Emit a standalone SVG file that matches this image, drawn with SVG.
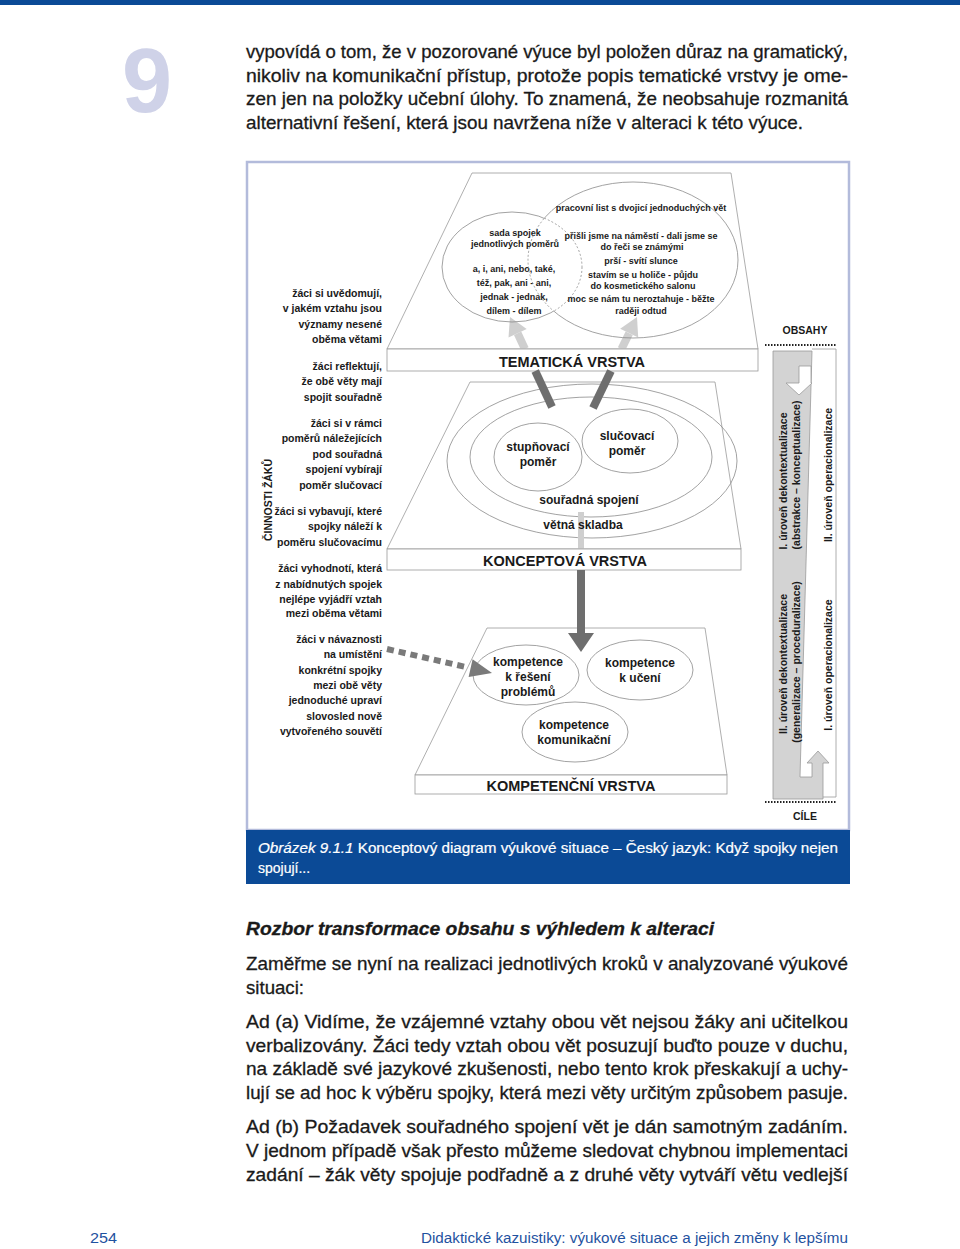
<svg xmlns="http://www.w3.org/2000/svg" width="960" height="1249" viewBox="0 0 960 1249">
<style>
.body{font-family:"Liberation Sans",Arial,sans-serif;font-size:18.5px;fill:#1a1a1a;stroke:#1a1a1a;stroke-width:0.3}
.lbl{font-family:"Liberation Sans",Arial,sans-serif;font-size:10.5px;font-weight:bold;fill:#1a1a1a;text-anchor:end}
.tiny{font-family:"Liberation Sans",Arial,sans-serif;font-size:9px;font-weight:bold;fill:#1a1a1a;text-anchor:middle}
.mid{font-family:"Liberation Sans",Arial,sans-serif;font-size:12px;font-weight:bold;fill:#1a1a1a;text-anchor:middle}
.layer{font-family:"Liberation Sans",Arial,sans-serif;font-size:14.5px;font-weight:bold;fill:#1a1a1a;text-anchor:middle}
.side{font-family:"Liberation Sans",Arial,sans-serif;font-size:10.5px;font-weight:bold;fill:#1a1a1a;text-anchor:middle}
.slab{fill:#fff;stroke:#9a9a9a;stroke-width:0.8}
.ell{fill:none;stroke:#8a8a8a;stroke-width:0.8}
.ellw{fill:#fff;stroke:#8a8a8a;stroke-width:0.8}
.dots{stroke:#222;stroke-width:2;stroke-dasharray:1.5 1.5}
.cap{font-family:"Liberation Sans",Arial,sans-serif;font-size:14px;fill:#fff;stroke:#fff;stroke-width:0.2}
</style>
<defs>
<mask id="outR" maskUnits="userSpaceOnUse" x="0" y="0" width="960" height="1249"><rect width="960" height="1249" fill="#fff"/><ellipse cx="633" cy="260" rx="105" ry="78" fill="#000"/></mask>
<mask id="inR" maskUnits="userSpaceOnUse" x="0" y="0" width="960" height="1249"><ellipse cx="633" cy="260" rx="105" ry="78" fill="#fff"/></mask>
<mask id="outL" maskUnits="userSpaceOnUse" x="0" y="0" width="960" height="1249"><rect width="960" height="1249" fill="#fff"/><ellipse cx="512" cy="267" rx="70" ry="55" fill="#000"/></mask>
<mask id="inL" maskUnits="userSpaceOnUse" x="0" y="0" width="960" height="1249"><ellipse cx="512" cy="267" rx="70" ry="55" fill="#fff"/></mask>
</defs>
<rect width="960" height="1249" fill="#fff"/>
<!-- page header -->
<rect x="0" y="0" width="960" height="5" fill="#0b4a96"/>
<text x="122" y="112" font-family="Liberation Sans, Arial, sans-serif" font-size="90" font-weight="bold" fill="#cfd2e8">9</text>
<g id="intro-text">
<text class="body" x="246" y="58" textLength="602" lengthAdjust="spacingAndGlyphs">vypovídá o tom, že v pozorované výuce byl položen důraz na gramatický,</text>
<text class="body" x="246" y="82" textLength="602" lengthAdjust="spacingAndGlyphs">nikoliv na komunikační přístup, protože popis tematické vrstvy je ome-</text>
<text class="body" x="246" y="105" textLength="602" lengthAdjust="spacingAndGlyphs">zen jen na položky učební úlohy. To znamená, že neobsahuje rozmanitá</text>
<text class="body" x="246" y="129" textLength="557" lengthAdjust="spacingAndGlyphs">alternativní řešení, která jsou navržena níže v alteraci k této výuce.</text>
</g>
<!-- figure frame -->
<rect x="247" y="162" width="602" height="668" fill="#fff" stroke="#b3bbdb" stroke-width="2.5"/>
<g id="caption">
<rect x="246" y="830" width="604" height="54" fill="#0b4a96"/>
<text class="cap" x="258" y="853" textLength="580" lengthAdjust="spacingAndGlyphs"><tspan font-style="italic">Obrázek 9.1.1</tspan> Konceptový diagram výukové situace – Český jazyk: Když spojky nejen</text>
<text class="cap" x="258" y="873">spojují...</text>
</g>

<!-- TOP LAYER -->
<g id="layer-tematicka">
<polygon class="slab" points="472,173 731,173 758,349 387,349"/>
</g>
<g id="connectors-light">
<line x1="517.6" y1="333.3" x2="524.9" y2="349" stroke="#cfcfcf" stroke-width="8"/>
<polygon points="510,317 526.7,329.1 508.5,337.5" fill="#cfcfcf"/>
<line x1="629.2" y1="333.2" x2="621.5" y2="349" stroke="#cfcfcf" stroke-width="8"/>
<polygon points="637,317 638.2,337.6 620.2,328.8" fill="#cfcfcf"/>
</g>
<g id="venn-sada-spojek">
<ellipse class="ell" cx="512" cy="267" rx="70" ry="55" mask="url(#outR)"/>
<ellipse class="ell" cx="512" cy="267" rx="70" ry="55" stroke-dasharray="2 2" mask="url(#inR)"/>
<text class="tiny" x="515" y="236">sada spojek</text>
<text class="tiny" x="515" y="247">jednotlivých poměrů</text>
<text class="tiny" x="514" y="272">a, i, ani, nebo, také,</text>
<text class="tiny" x="514" y="286">též, pak, ani - ani,</text>
<text class="tiny" x="514" y="300">jednak - jednak,</text>
<text class="tiny" x="514" y="314">dílem - dílem</text>
</g>
<g id="venn-pracovni-list">
<ellipse class="ell" cx="633" cy="260" rx="105" ry="78" mask="url(#outL)"/>
<ellipse class="ell" cx="633" cy="260" rx="105" ry="78" stroke-dasharray="2 2" mask="url(#inL)"/>
<text class="tiny" x="641" y="211">pracovní list s dvojicí jednoduchých vět</text>
<text class="tiny" x="641" y="239">přišli jsme na náměstí - dali jsme se</text>
<text class="tiny" x="642" y="250">do řeči se známými</text>
<text class="tiny" x="641" y="264">prší - svítí slunce</text>
<text class="tiny" x="643" y="278">stavím se u holiče - půjdu</text>
<text class="tiny" x="643" y="289">do kosmetického salonu</text>
<text class="tiny" x="641" y="302">moc se nám tu neroztahuje - běžte</text>
<text class="tiny" x="641" y="314">raději odtud</text>
</g>
<g id="front-tematicka">
<rect class="slab" x="387" y="349" width="371" height="22"/>
<text class="layer" x="572" y="367">TEMATICKÁ VRSTVA</text>
</g>

<!-- MIDDLE LAYER -->
<g id="layer-konceptova">
<polygon class="slab" points="470,382 715,382 741,549 387,549"/>
<ellipse class="ell" cx="592" cy="461" rx="145" ry="77"/>
<ellipse class="ell" cx="591" cy="457" rx="121" ry="60"/>
</g>
<g id="node-stupnovaci">
<ellipse class="ellw" cx="538" cy="457" rx="44" ry="34"/>
<text class="mid" x="538" y="451">stupňovací</text>
<text class="mid" x="538" y="466">poměr</text>
</g>
<g id="node-slucovaci">
<ellipse class="ellw" cx="630" cy="441" rx="48" ry="32"/>
<text class="mid" x="627" y="440">slučovací</text>
<text class="mid" x="627" y="455">poměr</text>
</g>
<line x1="581" y1="512" x2="581" y2="549" stroke="#cfcfcf" stroke-width="6"/>
<g id="node-souradna">
<text class="mid" x="589" y="504">souřadná spojení</text>
<text class="mid" x="583" y="529">větná skladba</text>
</g>
<g id="front-konceptova">
<rect class="slab" x="387" y="549" width="354" height="21"/>
<text class="layer" x="565" y="566">KONCEPTOVÁ VRSTVA</text>
</g>

<!-- BOTTOM LAYER -->
<g id="layer-kompetencni">
<polygon class="slab" points="487,628 705,628 727,775 415,775"/>
<rect class="slab" x="415" y="775" width="312" height="19"/>
<text class="layer" x="571" y="791">KOMPETENČNÍ VRSTVA</text>
</g>
<g id="node-reseni">
<ellipse class="ellw" cx="526" cy="675" rx="53" ry="30"/>
<text class="mid" x="528" y="666">kompetence</text>
<text class="mid" x="528" y="681">k řešení</text>
<text class="mid" x="528" y="696">problémů</text>
</g>
<g id="node-uceni">
<ellipse class="ellw" cx="640" cy="670" rx="53" ry="30"/>
<text class="mid" x="640" y="667">kompetence</text>
<text class="mid" x="640" y="682">k učení</text>
</g>
<g id="node-komunikacni">
<ellipse class="ellw" cx="575" cy="732" rx="53" ry="30"/>
<text class="mid" x="574" y="729">kompetence</text>
<text class="mid" x="574" y="744">komunikační</text>
</g>

<!-- connectors -->
<g id="connectors">
<line x1="535.2" y1="371" x2="552" y2="407" stroke="#6e6e6e" stroke-width="8"/>
<line x1="610.9" y1="371" x2="593" y2="408" stroke="#6e6e6e" stroke-width="8"/>
<line x1="581" y1="570" x2="581" y2="634" stroke="#6e6e6e" stroke-width="8"/>
<polygon points="568,633 594,633 581,652" fill="#6e6e6e"/>
<line x1="387" y1="649" x2="468" y2="667.5" stroke="#7a7a7a" stroke-width="6" stroke-dasharray="7 5"/>
<polygon points="492,673 468.6,676.9 472.6,659.3" fill="#7a7a7a"/>
</g>

<!-- left activity labels -->
<g id="cinnosti-zaku">
<text x="272" y="500" transform="rotate(-90 272 500)" font-family="Liberation Sans, Arial, sans-serif" font-size="11" font-weight="bold" fill="#1a1a1a" text-anchor="middle" textLength="82" lengthAdjust="spacingAndGlyphs">ČINNOSTI ŽÁKŮ</text>
<text class="lbl" x="382" y="297">žáci si uvědomují,</text>
<text class="lbl" x="382" y="312">v jakém vztahu jsou</text>
<text class="lbl" x="382" y="328">významy nesené</text>
<text class="lbl" x="382" y="343">oběma větami</text>
<text class="lbl" x="382" y="370">žáci reflektují,</text>
<text class="lbl" x="382" y="385">že obě věty mají</text>
<text class="lbl" x="382" y="401">spojit souřadně</text>
<text class="lbl" x="382" y="427">žáci si v rámci</text>
<text class="lbl" x="382" y="442">poměrů náležejících</text>
<text class="lbl" x="382" y="458">pod souřadná</text>
<text class="lbl" x="382" y="473">spojení vybírají</text>
<text class="lbl" x="382" y="489">poměr slučovací</text>
<text class="lbl" x="382" y="515">žáci si vybavují, které</text>
<text class="lbl" x="382" y="530">spojky náleží k</text>
<text class="lbl" x="382" y="546">poměru slučovacímu</text>
<text class="lbl" x="382" y="572">žáci vyhodnotí, která</text>
<text class="lbl" x="382" y="588">z nabídnutých spojek</text>
<text class="lbl" x="382" y="603">nejlépe vyjádří vztah</text>
<text class="lbl" x="382" y="617">mezi oběma větami</text>
<text class="lbl" x="382" y="643">žáci v návaznosti</text>
<text class="lbl" x="382" y="658">na umístění</text>
<text class="lbl" x="382" y="674">konkrétní spojky</text>
<text class="lbl" x="382" y="689">mezi obě věty</text>
<text class="lbl" x="382" y="704">jednoduché upraví</text>
<text class="lbl" x="382" y="720">slovosled nově</text>
<text class="lbl" x="382" y="735">vytvořeného souvětí</text>
</g>

<!-- right panel -->
<g id="panel-urovne">
<text class="side" x="805" y="334">OBSAHY</text>
<line class="dots" x1="765" y1="345" x2="836" y2="345"/>
<polyline points="812,349 836,349 836,797 823,797" fill="none" stroke="#9a9a9a" stroke-width="0.8"/>
<path d="M773,351 L812,351 L800,777 L812,777 L812,763 L807,763 L818,751 L829,763 L823,763 L823,799 L773,799 Z" fill="#d3d3d3" stroke="#9a9a9a" stroke-width="0.8"/>
<path d="M799,366 L811,366 L811,383 L812,383 L799,395 L786,383 L799,383 Z" fill="#fff" stroke="#9a9a9a" stroke-width="0.8"/>
<text class="side" x="787" y="481" transform="rotate(-90 787 481)">I. úroveň dekontextualizace</text>
<text class="side" x="800" y="475" transform="rotate(-90 800 475)">(abstrakce – konceptualizace)</text>
<text class="side" x="832" y="475" transform="rotate(-90 832 475)">II. úroveň operacionalizace</text>
<text class="side" x="787" y="664" transform="rotate(-90 787 664)">II. úroveň dekontextualizace</text>
<text class="side" x="800" y="662" transform="rotate(-90 800 662)">(generalizace – proceduralizace)</text>
<text class="side" x="832" y="665" transform="rotate(-90 832 665)">I. úroveň operacionalizace</text>
<line class="dots" x1="765" y1="802" x2="836" y2="802"/>
<text class="side" x="805" y="820">CÍLE</text>
</g>

<!-- text below figure -->
<g id="body-text">
<text class="body" x="246" y="935" font-weight="bold" font-style="italic" textLength="468" lengthAdjust="spacingAndGlyphs">Rozbor transformace obsahu s výhledem k alteraci</text>
<text class="body" x="246" y="970" textLength="602" lengthAdjust="spacingAndGlyphs">Zaměřme se nyní na realizaci jednotlivých kroků v analyzované výukové</text>
<text class="body" x="246" y="994" textLength="58" lengthAdjust="spacingAndGlyphs">situaci:</text>
<text class="body" x="246" y="1028" textLength="602" lengthAdjust="spacingAndGlyphs">Ad (a) Vidíme, že vzájemné vztahy obou vět nejsou žáky ani učitelkou</text>
<text class="body" x="246" y="1052" textLength="602" lengthAdjust="spacingAndGlyphs">verbalizovány. Žáci tedy vztah obou vět posuzují buďto pouze v duchu,</text>
<text class="body" x="246" y="1075" textLength="602" lengthAdjust="spacingAndGlyphs">na základě své jazykové zkušenosti, nebo tento krok přeskakují a uchy-</text>
<text class="body" x="246" y="1099" textLength="602" lengthAdjust="spacingAndGlyphs">lují se ad hoc k výběru spojky, která mezi věty určitým způsobem pasuje.</text>
<text class="body" x="246" y="1133" textLength="602" lengthAdjust="spacingAndGlyphs">Ad (b) Požadavek souřadného spojení vět je dán samotným zadáním.</text>
<text class="body" x="246" y="1157" textLength="602" lengthAdjust="spacingAndGlyphs">V jednom případě však přesto můžeme sledovat chybnou implementaci</text>
<text class="body" x="246" y="1181" textLength="602" lengthAdjust="spacingAndGlyphs">zadání – žák věty spojuje podřadně a z druhé věty vytváří větu vedlejší</text>
</g>
<g id="footer">
<text x="90" y="1243" font-family="Liberation Sans, Arial, sans-serif" font-size="15.5" fill="#1f52a0" textLength="27" lengthAdjust="spacingAndGlyphs">254</text>
<text x="421" y="1243" font-family="Liberation Sans, Arial, sans-serif" font-size="15.5" fill="#1f52a0" textLength="427" lengthAdjust="spacingAndGlyphs">Didaktické kazuistiky: výukové situace a jejich změny k lepšímu</text>
</g>
</svg>
